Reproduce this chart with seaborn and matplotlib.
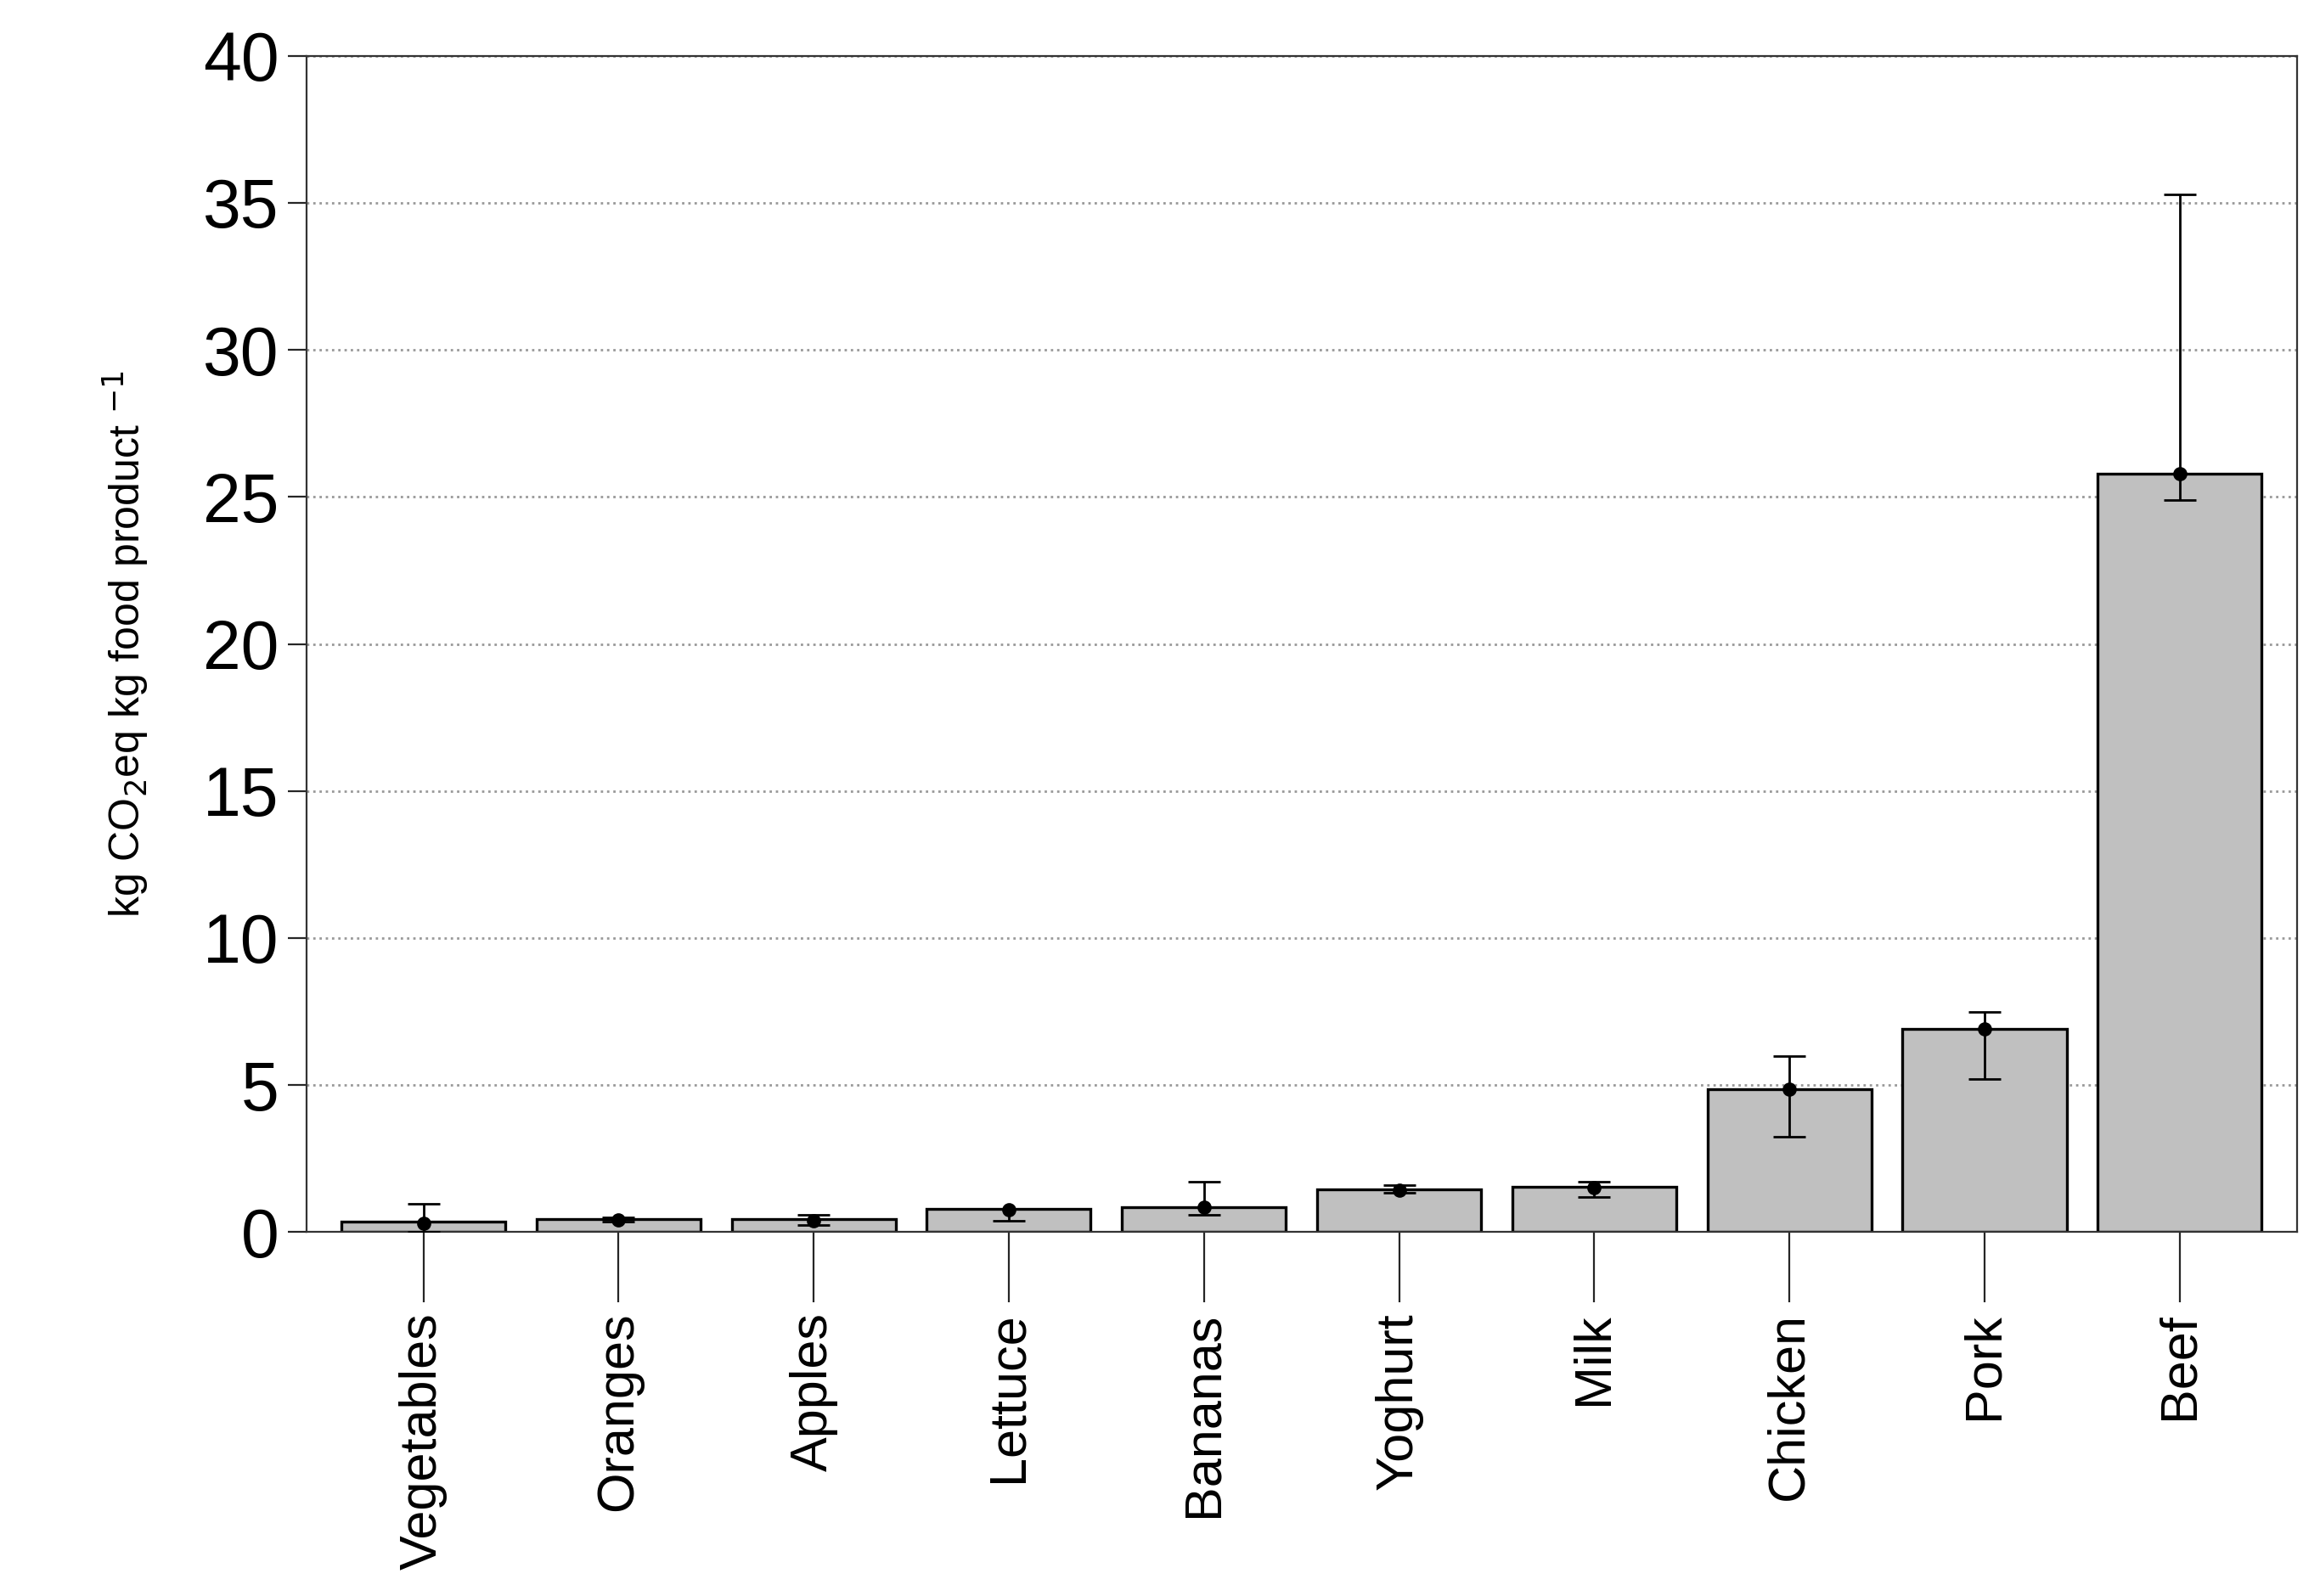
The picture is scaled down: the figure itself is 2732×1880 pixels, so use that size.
import numpy as np
import pandas as pd
import matplotlib
matplotlib.use("Agg")
import matplotlib.pyplot as plt
import seaborn as sns

foods = ["Vegetables", "Oranges", "Apples", "Lettuce", "Bananas",
         "Yoghurt", "Milk", "Chicken", "Pork", "Beef"]
values = [0.35, 0.45, 0.45, 0.8, 0.85, 1.45, 1.55, 4.85, 6.9, 25.8]
points = [0.3, 0.42, 0.4, 0.75, 0.85, 1.42, 1.5, 4.85, 6.9, 25.8]
err_low = [0.0, 0.35, 0.25, 0.4, 0.6, 1.35, 1.2, 3.25, 5.2, 24.9]
err_high = [0.95, 0.5, 0.6, 0.8, 1.7, 1.6, 1.7, 6.0, 7.5, 35.3]

df = pd.DataFrame({"food": foods, "value": values})

sns.set_style("ticks")
plt.rcParams['font.family'] = ['Liberation Sans', 'DejaVu Sans']
plt.rcParams['text.color'] = 'black'

fig = plt.figure(figsize=(13.66, 9.4), dpi=200)
ax = fig.add_axes([0.132, 0.228, 0.858, 0.737])

sns.barplot(data=df, x="food", y="value", color="#c0c0c0", edgecolor="black",
            linewidth=1.2, width=0.84, saturation=1, ax=ax, zorder=2)

x = np.arange(len(foods))
pts = np.array(points)
yerr = [pts - np.array(err_low), np.array(err_high) - pts]
ax.errorbar(x, pts, yerr=yerr, fmt="o", color="black", markersize=5,
            elinewidth=1, capsize=7, capthick=1, zorder=3)

ax.set_ylim(0, 40)
ax.set_xlim(-0.6, 9.6)
ax.set_yticks(range(0, 41, 5))
ax.yaxis.grid(True, linestyle=":", color="#999999", linewidth=1)
ax.set_axisbelow(True)
for s in ax.spines.values():
    s.set_visible(True)
    s.set_color("#333333")
ax.tick_params(axis="y", labelsize=29, length=8, direction="out", labelcolor="black")
ax.tick_params(axis="x", labelsize=22, length=30, direction="out", pad=4, labelcolor="black")
plt.setp(ax.get_xticklabels(), rotation=90)
ax.set_xlabel("")
ax.set_ylabel(r"kg CO$_2$eq kg food product $^{-1}$", fontsize=18, labelpad=22, color="black")

fig.savefig("out.png", dpi=200)
